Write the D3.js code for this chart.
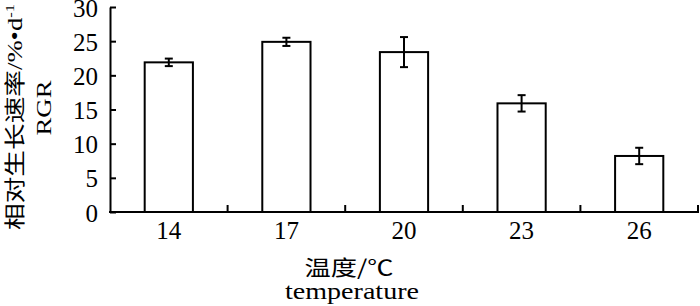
<!DOCTYPE html>
<html>
<head>
<meta charset="utf-8">
<script src="https://cdn.jsdelivr.net/npm/d3@7"></script>
<style>
  body { margin: 0; background: #fff; }
  text { font-family: "Liberation Serif", "Times New Roman", serif; fill: #000; }
  .cjk { font-family: "Noto Sans CJK SC", sans-serif; }
</style>
</head>
<body>
<svg id="chart" width="700" height="306"></svg>
<script>
// temperature groups and relative growth rate (%/d)
const temps = ["14", "17", "20", "23", "26"];
const rgr = [21.9, 24.9, 23.4, 15.9, 8.2];
const rgrErr = [0.55, 0.6, 2.2, 1.2, 1.2];
const yTicks = [0, 5, 10, 15, 20, 25, 30];

const width = 700;
const height = 306;
const plotLeft = 110;
const plotRight = 698;
const plotTop = 7;
const plotBottom = 212;
const pad = 0.59;

const svg = d3.select('#chart');

const x = d3.scaleBand()
    .domain(temps)
    .range([plotLeft, plotRight])
    .paddingInner(pad)
    .paddingOuter(pad / 2);

const y = d3.scaleLinear()
    .domain([0, 30])
    .range([plotBottom, plotTop]);

const data = temps.map((t, i) => ({ t: t, v: rgr[i], e: rgrErr[i] }));

// Bars
svg.selectAll('rect.bar')
    .data(data)
    .enter()
    .append('rect')
    .attr('class', 'bar')
    .attr('x', d => x(d.t))
    .attr('y', d => y(d.v))
    .attr('width', x.bandwidth())
    .attr('height', d => y(0) - y(d.v))
    .attr('fill', '#fff')
    .attr('stroke', '#000')
    .attr('stroke-width', 2);

// Error bars
const capW = 4;
const eb = svg.selectAll('g.err')
    .data(data)
    .enter()
    .append('g')
    .attr('class', 'err')
    .attr('stroke', '#000')
    .attr('stroke-width', 2);

eb.append('line')
    .attr('x1', d => x(d.t) + x.bandwidth() / 2)
    .attr('x2', d => x(d.t) + x.bandwidth() / 2)
    .attr('y1', d => y(d.v + d.e))
    .attr('y2', d => y(d.v - d.e));
eb.append('line')
    .attr('x1', d => x(d.t) + x.bandwidth() / 2 - capW)
    .attr('x2', d => x(d.t) + x.bandwidth() / 2 + capW)
    .attr('y1', d => y(d.v + d.e))
    .attr('y2', d => y(d.v + d.e));
eb.append('line')
    .attr('x1', d => x(d.t) + x.bandwidth() / 2 - capW)
    .attr('x2', d => x(d.t) + x.bandwidth() / 2 + capW)
    .attr('y1', d => y(d.v - d.e))
    .attr('y2', d => y(d.v - d.e));

// Y axis (ticks point inward)
const yAxis = svg.append('g')
    .attr('transform', `translate(${plotLeft},0)`)
    .call(d3.axisLeft(y).tickValues(yTicks).tickSizeInner(-6).tickSizeOuter(0).tickPadding(12));
yAxis.select('.domain').attr('stroke-width', 2);
yAxis.selectAll('.tick line').attr('stroke-width', 2);
yAxis.selectAll('.tick text')
    .attr('font-size', 25)
    .attr('dy', '0.36em');

// X axis: labels at band centres, ticks between bands
const xAxis = svg.append('g')
    .attr('transform', `translate(0,${plotBottom})`)
    .call(d3.axisBottom(x).tickSize(0).tickPadding(9));
xAxis.select('.domain').remove();
xAxis.selectAll('.tick text')
    .attr('font-size', 25);

svg.append('line')
    .attr('x1', plotLeft - 1)
    .attr('x2', plotRight + 1)
    .attr('y1', plotBottom)
    .attr('y2', plotBottom)
    .attr('stroke', '#000')
    .attr('stroke-width', 2);

const gap = x.step() * pad / 2;
svg.selectAll('line.sep')
    .data(temps)
    .enter()
    .append('line')
    .attr('class', 'sep')
    .attr('x1', d => x(d) + x.bandwidth() + gap)
    .attr('x2', d => x(d) + x.bandwidth() + gap)
    .attr('y1', plotBottom)
    .attr('y2', plotBottom - 7)
    .attr('stroke', '#000')
    .attr('stroke-width', 2);

// X axis title
svg.append('text')
    .attr('class', 'cjk')
    .attr('text-anchor', 'middle')
    .attr('font-size', 21)
    .attr('transform', 'translate(349,275) scale(1.25,1)')
    .text('温度/℃');

svg.append('text')
    .attr('text-anchor', 'middle')
    .attr('font-size', 23)
    .attr('transform', 'translate(352,299) scale(1.22,1)')
    .text('temperature');

// Y axis title
const yt = svg.append('text')
    .attr('text-anchor', 'middle')
    .attr('font-size', 21)
    .attr('transform', 'translate(22,117) rotate(-90) scale(1.27,1)');
yt.append('tspan')
    .attr('class', 'cjk')
    .text('相对生长速率');
yt.append('tspan').text('/%•d');
yt.append('tspan')
    .attr('font-size', 13)
    .attr('dy', -8)
    .text('-1');

svg.append('text')
    .attr('text-anchor', 'middle')
    .attr('font-size', 22)
    .attr('transform', 'translate(51,108) rotate(-90) scale(1.22,1)')
    .text('RGR');
</script>
</body>
</html>
